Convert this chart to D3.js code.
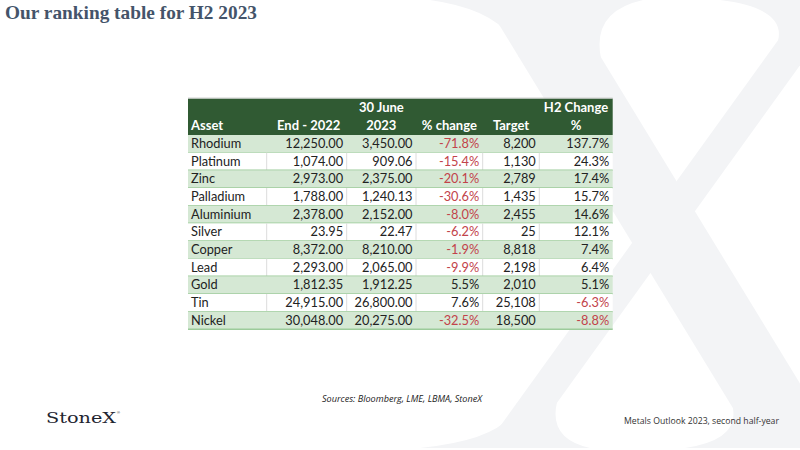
<!DOCTYPE html>
<html>
<head>
<meta charset="utf-8">
<script src="https://cdn.jsdelivr.net/npm/d3@7"></script>
<style>
    html, body { margin: 0; padding: 0; background: #fff; }
    svg { display: block; }
</style>
</head>
<body>
<div id="chart"></div>
<script>
    // table contents
    const assets = ["Rhodium", "Platinum", "Zinc", "Palladium", "Aluminium", "Silver", "Copper", "Lead", "Gold", "Tin", "Nickel"];
    const end2022 = [12250.00, 1074.00, 2973.00, 1788.00, 2378.00, 23.95, 8372.00, 2293.00, 1812.35, 24915.00, 30048.00];
    const june2023 = [3450.00, 909.06, 2375.00, 1240.13, 2152.00, 22.47, 8210.00, 2065.00, 1912.25, 26800.00, 20275.00];
    const pctChange = [-71.8, -15.4, -20.1, -30.6, -8.0, -6.2, -1.9, -9.9, 5.5, 7.6, -32.5];
    const target = [8200, 1130, 2789, 1435, 2455, 25, 8818, 2198, 2010, 25108, 18500];
    const h2Change = [137.7, 24.3, 17.4, 15.7, 14.6, 12.1, 7.4, 6.4, 5.1, -6.3, -8.8];

    const headerTop = ["", "", "30 June", "", "", "H2 Change"];
    const headerBottom = ["Asset", "End - 2022", "2023", "% change", "Target", "%"];

    const WIDTH = 800, HEIGHT = 450;
    const FONT = "Lato, 'Open Sans', sans-serif";
    const DARK_GREEN = "#305a33";
    const LIGHT_GREEN = "#d5e8d4";
    const LINE_GREEN = "#9ccb9a";
    const RED = "#c2434a";
    const TEXT = "#222";
    const WATERMARK = "#f3f4f6";

    const locale = d3.formatLocale({ decimal: ".", thousands: ",", grouping: [3], currency: ["", ""], minus: "-" });
    const fmt2 = locale.format(",.2f");
    const fmt0 = locale.format(",.0f");
    const fmtPct = v => locale.format(".1f")(v) + "%";

    // column edges of the table (layout, not data)
    const colEdges = [188, 266.7, 346.7, 416, 482.7, 539.3, 612.7];
    const headerY0 = 98.5, headerY1 = 135, tableBottom = 329.3;

    const svg = d3.select("#chart").append("svg")
        .attr("width", WIDTH)
        .attr("height", HEIGHT);

    // big serif "X" watermark, drawn as two strokes with flared serifs
    function drawWatermark() {
        const g = svg.append("g").attr("fill", WATERMARK);
        const thickL = yy => 484 + 0.61 * yy, thickR = yy => 566 + 0.61 * yy;
        const thinL = yy => 807 - 0.72 * yy, thinR = yy => 847 - 0.72 * yy;
        const top = -10, bottom = 448;

        const stroke = (l, r) => {
            const p = d3.path();
            p.moveTo(l(top), top); p.lineTo(r(top), top);
            p.lineTo(r(bottom), bottom); p.lineTo(l(bottom), bottom);
            p.closePath();
            return p.toString();
        };
        // serif: span [a,b] at edge y0, flaring into the stroke at y1
        const serif = (a, b, y0, y1, l, r) => {
            const p = d3.path();
            const outer = y0 < y1 ? y0 - 10 : y0;
            p.moveTo(a, outer); p.lineTo(b, outer);
            p.lineTo(b, y0);
            p.quadraticCurveTo(r(y0 + (y1 - y0) * 0.75), y0 + (y1 - y0) * 0.2, r(y1), y1);
            p.lineTo(l(y1), y1);
            p.quadraticCurveTo(l(y0 + (y1 - y0) * 0.75), y0 + (y1 - y0) * 0.2, a, y0);
            p.closePath();
            return p.toString();
        };
        g.append("path").attr("d", stroke(thickL, thickR));
        g.append("path").attr("d", stroke(thinL, thinR));
        g.append("path").attr("d", serif(430, 643, 0, 57, thickL, thickR));
        g.append("path").attr("d", serif(720, 935, 0, 40, thinL, thinR));
        g.append("path").attr("d", serif(420, 590, bottom, bottom - 45, thinL, thinR));
        g.append("path").attr("d", serif(685, 910, bottom, bottom - 40, thickL, thickR));
    }
    drawWatermark();

    // title
    svg.append("text")
        .attr("x", 5)
        .attr("y", 18.5)
        .attr("font-family", "'Liberation Serif', serif")
        .attr("font-weight", "bold")
        .attr("font-size", 19.5)
        .attr("fill", "#44546a")
        .attr("textLength", 252)
        .attr("lengthAdjust", "spacingAndGlyphs")
        .text("Our ranking table for H2 2023");

    const y = d3.scaleBand()
        .domain(assets)
        .range([headerY1, tableBottom]);

    const rows = assets.map((name, i) => ({
        name,
        cells: [
            { text: name, color: TEXT },
            { text: fmt2(end2022[i]), color: TEXT },
            { text: fmt2(june2023[i]), color: TEXT },
            { text: fmtPct(pctChange[i]), color: pctChange[i] < 0 ? RED : TEXT },
            { text: fmt0(target[i]), color: TEXT },
            { text: fmtPct(h2Change[i]), color: h2Change[i] < 0 ? RED : TEXT },
        ],
        shaded: i % 2 === 0,
    }));

    const table = svg.append("g");

    // header block
    table.append("rect")
        .attr("x", colEdges[0])
        .attr("y", headerY0)
        .attr("width", colEdges[6] - colEdges[0])
        .attr("height", headerY1 - headerY0)
        .attr("fill", DARK_GREEN);
    table.append("line")
        .attr("x1", colEdges[0]).attr("x2", colEdges[6])
        .attr("y1", headerY0 - 0.5).attr("y2", headerY0 - 0.5)
        .attr("stroke", "#d0d0d0");

    const headerMid = (headerY0 + headerY1) / 2;
    [[headerTop, headerY0, headerMid], [headerBottom, headerMid, headerY1]].forEach(([labels, top, bottom]) => {
        table.append("g").selectAll("text")
            .data(labels)
            .join("text")
            .attr("x", (d, i) => i === 0 ? colEdges[0] + 3 : (colEdges[i] + colEdges[i + 1]) / 2 + (i === 1 ? 2 : 0))
            .attr("y", (top + bottom) / 2 + 1)
            .attr("dominant-baseline", "middle")
            .attr("text-anchor", (d, i) => i === 0 ? "start" : "middle")
            .attr("font-family", FONT)
            .attr("font-weight", "bold")
            .attr("font-size", 13)
            .attr("fill", "#fff")
            .text(d => d);
    });

    // body rows
    const rowG = table.append("g").selectAll("g")
        .data(rows)
        .join("g")
        .attr("transform", d => `translate(0,${y(d.name)})`);

    rowG.append("rect")
        .attr("x", colEdges[0])
        .attr("width", colEdges[6] - colEdges[0])
        .attr("height", y.bandwidth())
        .attr("fill", d => d.shaded ? LIGHT_GREEN : "#fff");

    // vertical cell borders on white rows
    rowG.filter(d => !d.shaded).selectAll("line.v")
        .data(colEdges.slice(1, 6))
        .join("line")
        .attr("class", "v")
        .attr("x1", d => d).attr("x2", d => d)
        .attr("y1", 0).attr("y2", y.bandwidth())
        .attr("stroke", "#dcdcdc");

    rowG.append("line")
        .attr("x1", colEdges[0]).attr("x2", colEdges[6])
        .attr("y1", y.bandwidth()).attr("y2", y.bandwidth())
        .attr("stroke", LINE_GREEN)
        .attr("stroke-width", 1.5);

    rowG.selectAll("text")
        .data(d => d.cells)
        .join("text")
        .attr("x", (d, i) => i === 0 ? colEdges[0] + 3 : colEdges[i + 1] - 3.5)
        .attr("y", y.bandwidth() / 2 + 1)
        .attr("dominant-baseline", "middle")
        .attr("text-anchor", (d, i) => i === 0 ? "start" : "end")
        .attr("font-family", FONT)
        .attr("font-size", 12.8)
        .attr("fill", d => d.color)
        .text(d => d.text);

    // footer
    svg.append("text")
        .attr("x", 322)
        .attr("y", 402)
        .attr("font-family", "'Open Sans', sans-serif")
        .attr("font-style", "italic")
        .attr("font-size", 8.2)
        .attr("fill", "#222")
        .attr("textLength", 160)
        .attr("lengthAdjust", "spacingAndGlyphs")
        .text("Sources: Bloomberg, LME, LBMA, StoneX");

    svg.append("text")
        .attr("x", 46)
        .attr("y", 423)
        .attr("font-family", "'DejaVu Serif', serif")
        .attr("font-size", 14)
        .attr("fill", "#1e2530")
        .attr("textLength", 70)
        .attr("lengthAdjust", "spacingAndGlyphs")
        .text("StoneX");
    svg.append("text")
        .attr("x", 117)
        .attr("y", 414)
        .attr("font-family", "'Liberation Sans', sans-serif")
        .attr("font-size", 4)
        .attr("fill", "#1e2530")
        .text("®");

    svg.append("text")
        .attr("x", 779)
        .attr("y", 424)
        .attr("text-anchor", "end")
        .attr("font-family", "'Open Sans', sans-serif")
        .attr("font-size", 9.3)
        .attr("fill", "#333")
        .attr("textLength", 155)
        .attr("lengthAdjust", "spacingAndGlyphs")
        .text("Metals Outlook 2023, second half-year");
</script>
</body>
</html>
